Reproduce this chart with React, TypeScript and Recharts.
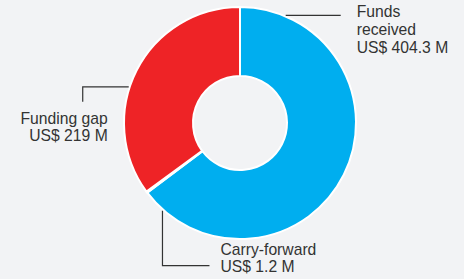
import { PieChart, Pie, Cell } from 'recharts';

const categories = ['Funds received', 'Carry-forward', 'Funding gap'];
const amounts = [404.3, 1.2, 219];
const amountLabels = ['US$ 404.3 M', 'US$ 1.2 M', 'US$ 219 M'];

const COLORS = ['#00AEEF', '#00AEEF', '#EE2326'];
const BG = '#F2F3F5';
const INK = '#333333';

const data = categories.map((name, i) => ({ name, value: amounts[i] }));

// where each leader line leaves the ring (degrees clockwise from 12 o'clock)
const ANCHORS = [23, 221.5, 288];

function renderLabel(props: any) {
  const { cx, cy, outerRadius, index } = props;
  const a = (ANCHORS[index] * Math.PI) / 180;
  const x = cx + (outerRadius + 1) * Math.sin(a);
  const y = cy - (outerRadius + 1) * Math.cos(a);
  const txt = { fill: INK, fontSize: 15.7, fontFamily: 'Liberation Sans, Arial, sans-serif' };

  if (index === 0) {
    return (
      <g>
        <path d={`M${x},${y} H${x + 55}`} stroke={INK} strokeWidth={1.2} fill="none" />
        <text x={x + 71} y={y + 2} {...txt}>
          <tspan x={x + 71} dy={0}>Funds</tspan>
          <tspan x={x + 71} dy={18}>received</tspan>
          <tspan x={x + 71} dy={18}>{amountLabels[0]}</tspan>
        </text>
      </g>
    );
  }
  if (index === 1) {
    return (
      <g>
        <path d={`M${x},${y} V${y + 55} H${x + 47}`} stroke={INK} strokeWidth={1.2} fill="none" />
        <text x={x + 58} y={y + 44} {...txt}>
          <tspan x={x + 58} dy={0}>Carry-forward</tspan>
          <tspan x={x + 58} dy={17}>{amountLabels[1]}</tspan>
        </text>
      </g>
    );
  }
  return (
    <g>
      <path d={`M${x},${y} H${x - 46} V${y + 15}`} stroke={INK} strokeWidth={1.2} fill="none" />
      <text x={x - 21} y={y + 37} textAnchor="end" {...txt}>
        <tspan x={x - 21} dy={0}>Funding gap</tspan>
        <tspan x={x - 21} dy={17}>{amountLabels[2]}</tspan>
      </text>
    </g>
  );
}

export default function App() {
  return (
    <div style={{ position: 'absolute', left: 0, top: 0, width: 464, height: 279, background: BG }}>
      <PieChart width={464} height={279} margin={{ top: 0, right: 0, bottom: 0, left: 0 }}>
        <Pie
          data={data}
          dataKey="value"
          nameKey="name"
          cx={240}
          cy={123}
          innerRadius={47}
          outerRadius={116}
          startAngle={90}
          endAngle={-270}
          stroke="#ffffff"
          strokeWidth={2}
          label={renderLabel}
          labelLine={false}
          isAnimationActive={false}
        >
          {data.map((d, i) => (
            <Cell key={d.name} fill={COLORS[i]} />
          ))}
        </Pie>
      </PieChart>
    </div>
  );
}
